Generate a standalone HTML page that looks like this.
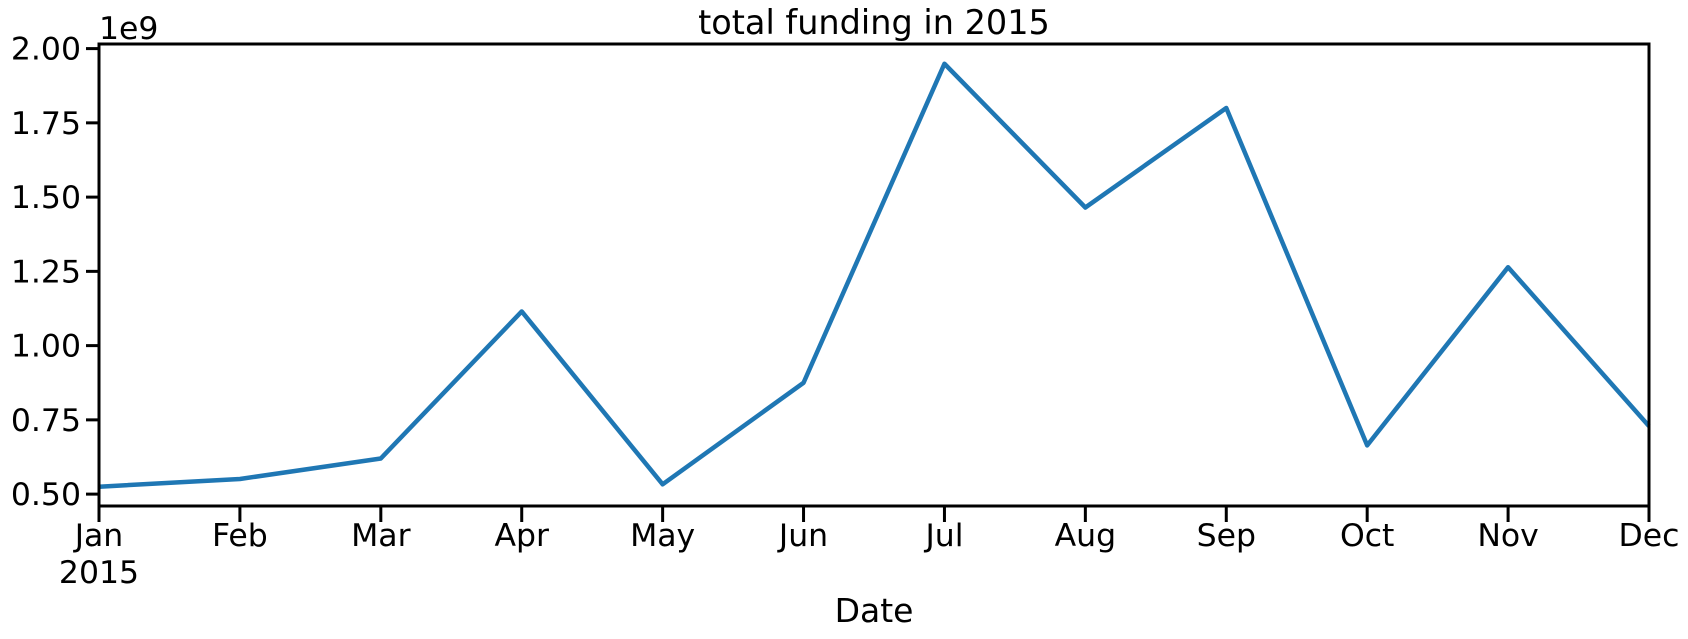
<!DOCTYPE html>
<html><head><meta charset="utf-8"><style>
html,body{margin:0;padding:0;background:#fff;}
svg{display:block;font-family:"DejaVu Sans","Liberation Sans",sans-serif;}
</style></head><body>
<svg id="chart" width="1688" height="639" viewBox="0 0 1688 639" xmlns="http://www.w3.org/2000/svg">
<g id="plot"></g>
</svg>
<script>
const months = ["Jan","Feb","Mar","Apr","May","Jun","Jul","Aug","Sep","Oct","Nov","Dec"];
const funding = [0.525,0.551,0.62,1.115,0.533,0.875,1.949,1.465,1.80,0.664,1.264,0.729];
const yTicks = [0.50,0.75,1.00,1.25,1.50,1.75,2.00];
const yTickLabels = ["0.50","0.75","1.00","1.25","1.50","1.75","2.00"];

const L=99,R=1649,T=44,B=506;
const yMin=0.46,yMax=2.0155;
const xs=i=>L+(R-L)*i/(months.length-1);
const ys=v=>B-(v-yMin)/(yMax-yMin)*(B-T);
const NS="http://www.w3.org/2000/svg";
const g=document.getElementById('plot');
function mk(tag,attrs,parent){const e=document.createElementNS(NS,tag);for(const k in attrs)e.setAttribute(k,attrs[k]);(parent||g).appendChild(e);return e;}

const pts=funding.map((v,i)=>xs(i)+','+ys(v)).join(' ');
const line=mk('polyline',{points:pts,fill:'none',stroke:'#1f77b4','stroke-width':4.5,'stroke-linejoin':'round','stroke-linecap':'butt'});



const frame=mk('rect',{x:L,y:T,width:R-L,height:B-T,fill:'none',stroke:'#000','stroke-width':3});



yTicks.forEach((v,i)=>{
  const y=ys(v);
  const t=mk('line',{x1:L-13,x2:L,y1:y,y2:y,stroke:'#000','stroke-width':3});
  
  
  const tx=mk('text',{x:L-18,y:y+11,'font-size':31.5,'text-anchor':'end',fill:'#000'});
  tx.textContent=yTickLabels[i];
  
  
});
months.forEach((m,i)=>{
  const x=xs(i);
  const t=mk('line',{x1:x,x2:x,y1:B,y2:B+16,stroke:'#000','stroke-width':3});
  
  
  const tx=mk('text',{x:x,y:B+40,'font-size':31.5,'text-anchor':'middle',fill:'#000'});
  tx.textContent=m;
  
  
});
const yr=mk('text',{x:L,y:B+77,'font-size':31.5,'text-anchor':'middle',fill:'#000'});
yr.textContent='2015';



const off=mk('text',{x:L,y:T-5,'font-size':31.5,fill:'#000'});
off.textContent='1e9';



const title=mk('text',{x:(L+R)/2,y:34,'font-size':33.5,'text-anchor':'middle',fill:'#000'});
title.textContent='total funding in 2015';



const xl=mk('text',{x:(L+R)/2,y:622,'font-size':33,'text-anchor':'middle',fill:'#000'});
xl.textContent='Date';


</script>
</body></html>
